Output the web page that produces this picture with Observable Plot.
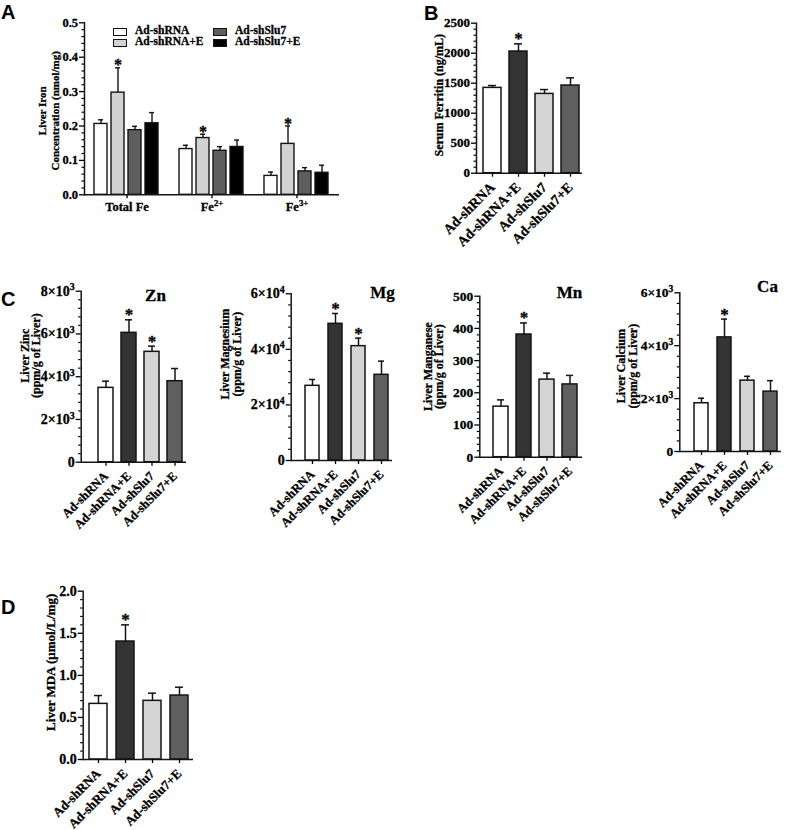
<!DOCTYPE html>
<html><head><meta charset="utf-8">
<script src="https://cdn.jsdelivr.net/npm/d3@7"></script>
<script src="https://cdn.jsdelivr.net/npm/@observablehq/plot@0.6"></script>
<style>
body{margin:0;background:#fff;}
#fig{position:relative;width:791px;height:830px;background:#fff;overflow:hidden;font-family:"Liberation Serif","Times New Roman",serif;font-weight:bold;color:#000;}
#fig svg text{stroke:#000;stroke-width:0.3px;}
.letter{position:absolute;font-family:"Liberation Sans",Arial,sans-serif;font-weight:bold;font-size:20px;line-height:20px;}
.lg{position:absolute;font-size:11.5px;line-height:11.5px;white-space:nowrap;-webkit-text-stroke:0.3px #000;}
.sw{position:absolute;width:12px;height:6px;border:1px solid #141414;}
</style></head><body><div id="fig"></div>
<script>
// ---------- data ----------
const treatments = ["Ad-shRNA", "Ad-shRNA+E", "Ad-shSlu7", "Ad-shSlu7+E"];
const treatmentColors = ["#ffffff", "#333333", "#d4d4d4", "#5f5f5f"];

// Panel A: liver iron
const ironForms = ["Total Fe", "Fe^2+", "Fe^3+"];
const ironSeries = ["Ad-shRNA", "Ad-shRNA+E", "Ad-shSlu7", "Ad-shSlu7+E"];
const ironColors = ["#ffffff", "#d2d2d2", "#5e5e5e", "#000000"];
const ironTotalMean = [0.206, 0.297, 0.188, 0.208];
const ironTotalErr = [0.012, 0.072, 0.011, 0.031];
const ironFe2Mean = [0.133, 0.165, 0.128, 0.139];
const ironFe2Err = [0.011, 0.011, 0.012, 0.020];
const ironFe3Mean = [0.055, 0.148, 0.068, 0.064];
const ironFe3Err = [0.011, 0.052, 0.011, 0.022];
const ironSig = [false, true, false, false];
const ironTicks = [0, 0.1, 0.2, 0.3, 0.4, 0.5];
const ironTickLabels = ["0.0", "0.1", "0.2", "0.3", "0.4", "0.5"];

// Panel B: serum ferritin
const ferritinMean = [1422, 2028, 1322, 1461];
const ferritinErr = [39, 128, 72, 128];
const ferritinSig = [false, true, false, false];
const ferritinTicks = [0, 500, 1000, 1500, 2000, 2500];
const ferritinTickLabels = ["0", "500", "1000", "1500", "2000", "2500"];

// Panel C: liver metals
const zincMean = [3478, 6053, 5164, 3790];
const zincErr = [312, 608, 265, 593];
const zincSig = [false, true, true, false];
const zincTicks = [0, 2000, 4000, 6000, 8000];
const zincTickLabels = ["0", "2×10^3", "4×10^3", "6×10^3", "8×10^3"];

const magnesiumMean = [26880, 49200, 41160, 30840];
const magnesiumErr = [2280, 3720, 2880, 4920];
const magnesiumSig = [false, true, true, false];
const magnesiumTicks = [0, 20000, 40000, 60000];
const magnesiumTickLabels = ["0", "2×10^4", "4×10^4", "6×10^4"];

const manganeseMean = [157, 381, 241, 226];
const manganeseErr = [21, 36, 20, 28];
const manganeseSig = [false, true, false, false];
const manganeseTicks = [0, 100, 200, 300, 400, 500];
const manganeseTickLabels = ["0", "100", "200", "300", "400", "500"];

const calciumMean = [1824, 4314, 2679, 2264];
const calciumErr = [189, 692, 164, 415];
const calciumSig = [false, true, false, false];
const calciumTicks = [0, 2000, 4000, 6000];
const calciumTickLabels = ["0", "2×10^3", "4×10^3", "6×10^3"];

// Panel D: liver MDA
const mdaMean = [0.661, 1.402, 0.697, 0.760];
const mdaErr = [0.099, 0.198, 0.091, 0.099];
const mdaSig = [false, true, false, false];
const mdaTicks = [0, 0.5, 1.0, 1.5, 2.0];
const mdaTickLabels = ["0.0", "0.5", "1.0", "1.5", "2.0"];

// ---------- helpers ----------
const fig = document.getElementById("fig");
const FONT = '"Liberation Serif","Times New Roman",serif';
const INK = "#141414";

function subdivide(ticks, n) {
  const out = [];
  for (let i = 0; i < ticks.length - 1; i++)
    for (let k = 1; k < n; k++) out.push(ticks[i] + (ticks[i + 1] - ticks[i]) * k / n);
  return out;
}
function supify(root) {
  root.querySelectorAll("text, tspan").forEach(t => {
    if (t.childNodes.length === 1 && t.firstChild.nodeType === 3 && t.textContent.includes("^")) {
      const [base, sup] = t.textContent.split("^");
      t.textContent = base;
      const s = document.createElementNS("http://www.w3.org/2000/svg", "tspan");
      s.setAttribute("font-size", "0.7em");
      s.setAttribute("dy", "-0.55em");
      s.textContent = sup;
      t.appendChild(s);
    }
  });
}
function place(el, left, top) {
  el.style.position = "absolute";
  el.style.left = left + "px";
  el.style.top = top + "px";
  fig.appendChild(el);
}
function letter(ch, left, top) {
  const d = document.createElement("div");
  d.className = "letter"; d.textContent = ch;
  d.style.left = left + "px"; d.style.top = top + "px";
  fig.appendChild(d);
}
function yAxisMarks(ticks, labels, size, extra = {}) {
  const lab = new Map(ticks.map((t, i) => [t, labels[i]]));
  return [
    Plot.axisY({ticks: subdivide(ticks, 5), tickSize: 2.5, tickFormat: () => "", strokeWidth: 1.2, label: null, ...extra}),
    Plot.axisY({ticks, tickSize: 5, tickPadding: 1.5, tickFormat: d => lab.get(d), fontSize: size, strokeWidth: 1.3, label: null, ...extra})
  ];
}
const starStyle = {text: () => "*", fill: "#000", stroke: "#000", strokeWidth: 0.5, fontSize: 17};

// ---------- Panel A ----------
{
  const means = [ironTotalMean, ironFe2Mean, ironFe3Mean];
  const errs = [ironTotalErr, ironFe2Err, ironFe3Err];
  const data = ironForms.flatMap((f, gi) => ironSeries.map((s, si) => ({
    form: f, series: s, mean: means[gi][si], top: means[gi][si] + errs[gi][si], sig: ironSig[si]
  })));
  const plot = Plot.plot({
    width: 350, height: 230, marginLeft: 83, marginTop: 22.3, marginRight: 10, marginBottom: 35.7,
    style: {fontFamily: FONT, fontWeight: "bold", fontSize: "12px", color: "#000", background: "transparent", overflow: "visible"},
    fx: {domain: ironForms, padding: 0, label: null},
    x: {domain: ironSeries, paddingInner: 0.235, paddingOuter: 0.51, axis: null},
    y: {domain: [0, 0.5], label: null},
    color: {domain: ironSeries, range: ironColors},
    marks: [
      Plot.barY(data, {fx: "form", x: "series", y: "mean", fill: "series", stroke: INK, strokeWidth: 1.4}),
      Plot.ruleX(data, {fx: "form", x: "series", y1: "mean", y2: "top", stroke: INK, strokeWidth: 1.4}),
      Plot.tickY(data, {fx: "form", x: "series", y: "top", stroke: INK, strokeWidth: 1.4, insetLeft: 4, insetRight: 4}),
      Plot.text(data.filter(d => d.sig), {fx: "form", x: "series", y: "top", ...starStyle, fontSize: 16, dy: -2.5}),
      Plot.ruleY([0], {stroke: INK, strokeWidth: 1.5}),
      ...yAxisMarks(ironTicks, ironTickLabels, 12.5),
      Plot.frame({anchor: "left", facetAnchor: "left", stroke: INK, strokeWidth: 1.5}),
      Plot.axisFx({anchor: "bottom", tickSize: 4, tickPadding: 3, fontSize: 12.5, label: null, strokeWidth: 1.3}),
      Plot.text(["Liver Iron\nConcentration (nmol/mg)"], {frameAnchor: "left", facetAnchor: "left", text: d => d, rotate: -90, dx: -36.5, dy: 2, fontSize: 11, lineHeight: 1.18, textAnchor: "middle", lineAnchor: "middle"})
    ]
  });
  supify(plot);
  place(plot, 0, 0);
  // legend
  const lx = [113, 213], ly = [28, 38.5];
  ironSeries.forEach((s, i) => {
    const col = i < 2 ? 0 : 1, row = i % 2;
    const sw = document.createElement("div");
    sw.className = "sw"; sw.style.background = ironColors[i];
    sw.style.left = lx[col] + "px"; sw.style.top = ly[row] + "px";
    fig.appendChild(sw);
    const t = document.createElement("div");
    t.className = "lg"; t.textContent = s;
    t.style.left = (lx[col] + 22) + "px"; t.style.top = (ly[row] - 3) + "px";
    fig.appendChild(t);
  });
  letter("A", 1, 2);
}

// ---------- Panels B, C, D ----------
const panels = [
  {left: 400, top: 0, width: 190, height: 260, mL: 76, mT: 22.7, mR: 8, mB: 87.3, xRange: [78.9, 183.6], pI: 0.312,
   mean: ferritinMean, err: ferritinErr, sig: ferritinSig, ticks: ferritinTicks, labels: ferritinTickLabels, ymax: 2500,
   ylabel: "Serum Ferritin (ng/mL)", ldx: -37, ldy: -3, lsize: 12, lh: 1, tsize: 13, xsize: 14, inset: 5},
  {left: 0, top: 280, width: 195, height: 250, mL: 80.7, mT: 10.7, mR: 9, mB: 68.3, xRange: [92.7, 187.3], pI: 0.366,
   mean: zincMean, err: zincErr, sig: zincSig, ticks: zincTicks, labels: zincTickLabels, ymax: 8000,
   ylabel: "Liver Zinc\n(ppm/g of Liver)", ldx: -50.4, ldy: -21, lsize: 12, lh: 0.95, tsize: 14, xsize: 12.5, inset: 4,
   title: "Zn", tx: 155, ty: 20},
  {left: 195, top: 280, width: 200, height: 250, mL: 95.7, mT: 13.3, mR: 3, mB: 70, xRange: [104.25, 198.25], pI: 0.383,
   mean: magnesiumMean, err: magnesiumErr, sig: magnesiumSig, ticks: magnesiumTicks, labels: magnesiumTickLabels, ymax: 60000,
   ylabel: "Liver Magnesium\n(ppm/g of Liver)", ldx: -59.9, ldy: -23, lsize: 12, lh: 0.95, tsize: 14, xsize: 12.5, inset: 4,
   title: "Mg", tx: 187, ty: 17},
  {left: 395, top: 280, width: 195, height: 250, mL: 84.3, mT: 15.7, mR: 8, mB: 73.3, xRange: [92.7, 187.3], pI: 0.366,
   mean: manganeseMean, err: manganeseErr, sig: manganeseSig, ticks: manganeseTicks, labels: manganeseTickLabels, ymax: 500,
   ylabel: "Liver Manganese\n(ppm/g of Liver)", ldx: -45.8, ldy: -10, lsize: 12, lh: 0.95, tsize: 13.5, xsize: 12.5, inset: 4,
   title: "Mn", tx: 174, ty: 17},
  {left: 590, top: 280, width: 201, height: 250, mL: 89.3, mT: 12.3, mR: 10, mB: 79, xRange: [98.25, 192.25], pI: 0.383,
   mean: calciumMean, err: calciumErr, sig: calciumSig, ticks: calciumTicks, labels: calciumTickLabels, ymax: 6000,
   ylabel: "Liver Calcium\n(ppm/g of Liver)", ldx: -52.5, ldy: -6, lsize: 12, lh: 0.95, tsize: 13.5, xsize: 12.5, inset: 4,
   title: "Ca", tx: 177, ty: 11},
  {left: 0, top: 580, width: 210, height: 250, mL: 82.7, mT: 10.7, mR: 17, mB: 71, xRange: [83.8, 193.2], pI: 0.323,
   mean: mdaMean, err: mdaErr, sig: mdaSig, ticks: mdaTicks, labels: mdaTickLabels, ymax: 2,
   ylabel: "Liver MDA (μmol/L/mg)", ldx: -32.7, ldy: -13, lsize: 13, lh: 1, tsize: 14, xsize: 13, inset: 5}
];

for (const p of panels) {
  const data = treatments.map((t, i) => ({cat: t, mean: p.mean[i], top: p.mean[i] + p.err[i], sig: p.sig[i]}));
  const marks = [
    Plot.barY(data, {x: "cat", y: "mean", fill: "cat", stroke: INK, strokeWidth: 1.5}),
    Plot.ruleX(data, {x: "cat", y1: "mean", y2: "top", stroke: INK, strokeWidth: 1.5}),
    Plot.tickY(data, {x: "cat", y: "top", stroke: INK, strokeWidth: 1.5, insetLeft: p.inset, insetRight: p.inset}),
    Plot.text(data.filter(d => d.sig), {x: "cat", y: "top", ...starStyle, dy: -5}),
    Plot.ruleY([0], {stroke: INK, strokeWidth: 1.5}),
    ...yAxisMarks(p.ticks, p.labels, p.tsize),
    Plot.frame({anchor: "left", stroke: INK, strokeWidth: 1.5}),
    Plot.axisX({tickSize: 4, tickRotate: -45, fontSize: p.xsize, label: null, strokeWidth: 1.3}),
    Plot.text([p.ylabel], {frameAnchor: "left", text: d => d, rotate: -90, dx: p.ldx, dy: p.ldy, fontSize: p.lsize, lineHeight: p.lh, textAnchor: "middle", lineAnchor: "middle"})
  ];
  if (p.title) marks.push(Plot.text([p.title], {frameAnchor: "top-left", text: d => d, dx: p.tx - p.mL, dy: p.ty - p.mT, fontSize: 17, textAnchor: "middle", lineAnchor: "bottom"}));
  const plot = Plot.plot({
    width: p.width, height: p.height, marginLeft: p.mL, marginTop: p.mT, marginRight: p.mR, marginBottom: p.mB,
    style: {fontFamily: FONT, fontWeight: "bold", fontSize: "12px", color: "#000", background: "transparent", overflow: "visible"},
    x: {domain: treatments, range: p.xRange, paddingInner: p.pI, paddingOuter: p.pI / 2, align: 0.5, label: null},
    y: {domain: [0, p.ymax], label: null},
    color: {domain: treatments, range: treatmentColors},
    marks
  });
  supify(plot);
  place(plot, p.left, p.top);
}
letter("B", 424, 3);
letter("C", 1, 289);
letter("D", 1, 597);
</script></body></html>
